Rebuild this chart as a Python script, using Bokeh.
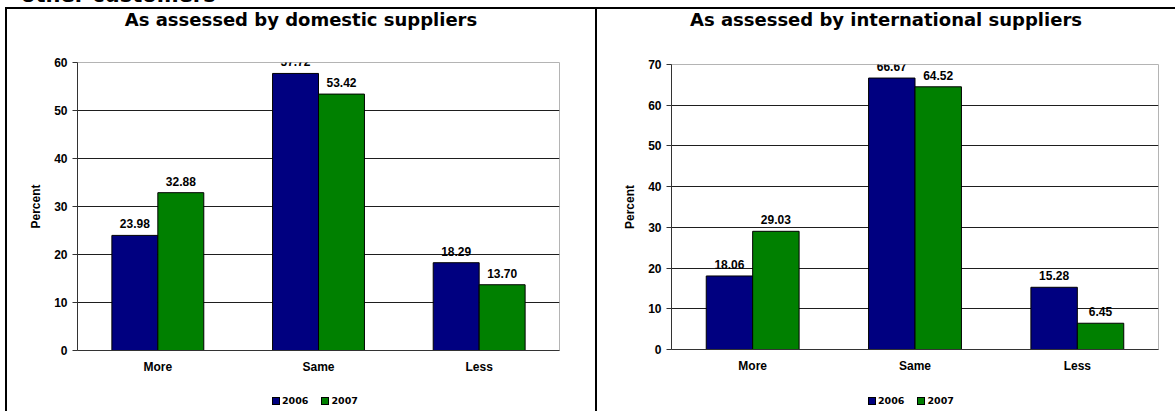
from bokeh.plotting import figure
from bokeh.models import (ColumnDataSource, FixedTicker, LabelSet, Div, Spacer, Range1d,
                          FactorRange)
from bokeh.transform import dodge
from bokeh.layouts import row, column
from bokeh.embed import file_html
from bokeh.resources import INLINE

# ---------------- data ----------------
categories = ["More", "Same", "Less"]
series_names = ["2006", "2007"]
domestic_2006 = [23.98, 57.72, 18.29]
domestic_2007 = [32.88, 53.42, 13.70]
international_2006 = [18.06, 66.67, 15.28]
international_2007 = [29.03, 64.52, 6.45]
panel_titles = ["As assessed by domestic suppliers", "As assessed by international suppliers"]
y_max = [60, 70]
y_step = 10
header_text = "other customers"
axis_title = "Percent"

# ---------------- style ----------------
COLORS = ["#000080", "#008000"]
BAR_W = 0.286
AXIS_COLOR = "#333333"
HTML_FONT = "'DejaVu Sans', sans-serif"


def make_panel(series, ymax, width, height, ml, mr, mt, mb):
    p = figure(width=width, height=height,
               x_range=FactorRange(factors=categories, range_padding=0),
               y_range=Range1d(0, ymax),
               output_backend="svg", toolbar_location=None,
               min_border_left=ml, min_border_right=mr, min_border_top=mt, min_border_bottom=mb)
    p.outline_line_color = "#b4b4b4"

    xa = p.xaxis[0]
    xa.major_tick_out = 0
    xa.major_tick_in = 0
    xa.axis_line_color = AXIS_COLOR
    xa.major_label_text_font_style = "bold"
    xa.major_label_text_font_size = "12px"
    xa.major_label_text_color = "black"
    xa.major_label_standoff = 9

    ya = p.yaxis[0]
    ya.ticker = FixedTicker(ticks=list(range(0, ymax + 1, y_step)))
    ya.major_tick_out = 5
    ya.major_tick_in = 0
    ya.major_tick_line_color = AXIS_COLOR
    ya.axis_line_color = AXIS_COLOR
    ya.major_label_text_font_style = "bold"
    ya.major_label_text_font_size = "12px"
    ya.major_label_text_color = "black"
    ya.major_label_standoff = 5
    ya.axis_label = axis_title
    ya.axis_label_text_font_style = "bold"
    ya.axis_label_text_font_size = "12px"
    ya.axis_label_text_color = "black"
    ya.axis_label_standoff = 8

    p.xgrid.grid_line_color = None
    p.ygrid.grid_line_color = "#1e1e1e"

    offsets = [-BAR_W / 2, BAR_W / 2]
    for k, vals in enumerate(series):
        src = ColumnDataSource(dict(cat=categories, top=vals,
                                    label=[f"{v:.2f}" for v in vals]))
        p.vbar(x=dodge("cat", offsets[k], range=p.x_range), top="top", width=BAR_W,
               source=src, fill_color=COLORS[k], line_color="black", line_width=1)
        p.add_layout(LabelSet(x=dodge("cat", offsets[k], range=p.x_range), y="top",
                              text="label", source=src, text_align="center",
                              text_baseline="alphabetic", y_offset=7,
                              text_font_style="bold", text_font_size="12px",
                              text_color="black"))
    return p


def black_bar(w, h):
    return Div(width=w, height=h, margin=0, text="",
               styles={"background-color": "black", "overflow": "hidden"})


def title_div(text, w):
    return Div(width=w, height=22, margin=0, styles={"overflow": "hidden"},
               text=(f"<div style=\"width:{w}px;text-align:center;font-family:{HTML_FONT};"
                     f"font-weight:bold;font-size:18px;line-height:22px;white-space:nowrap;\">"
                     f"{text}</div>"))


def legend_div(w, left):
    parts = []
    for name, col in zip(series_names, COLORS):
        parts.append(
            f"<span style=\"display:inline-block;width:8px;height:8px;background:{col};"
            f"border:1px solid black;margin-right:2px;vertical-align:-1px;\"></span>"
            f"<span style=\"margin-right:13px;\">{name}</span>")
    return Div(width=w, height=26, margin=0, styles={"overflow": "hidden"},
               text=(f"<div style=\"position:relative;left:{left}px;top:7px;"
                     f"font-family:{HTML_FONT};font-weight:bold;font-size:9.5px;"
                     f"line-height:12px;white-space:nowrap;\">" + "".join(parts) + "</div>"))


p1 = make_panel([domestic_2006, domestic_2007], y_max[0], 588, 354, 70, 36, 31, 35)
p2 = make_panel([international_2006, international_2007], y_max[1], 578, 354, 74, 17, 33, 36)

header = Div(width=1175, height=7, margin=0, styles={"overflow": "hidden"},
             text=(f"<div style=\"position:relative;left:21px;top:-15px;font-family:{HTML_FONT};"
                   f"font-weight:bold;font-size:21px;line-height:21px;white-space:nowrap;\">"
                   f"{header_text}</div>"))

panels = row(black_bar(2, 402),
             column(title_div(panel_titles[0], 588), p1, legend_div(588, 265)),
             black_bar(2, 402),
             column(title_div(panel_titles[1], 578), p2, legend_div(578, 271)))
body = row(Spacer(width=5, height=404, margin=0),
           column(black_bar(1170, 2), panels))
layout = column(header, body)

open("out.html", "w").write(file_html(layout, INLINE))
